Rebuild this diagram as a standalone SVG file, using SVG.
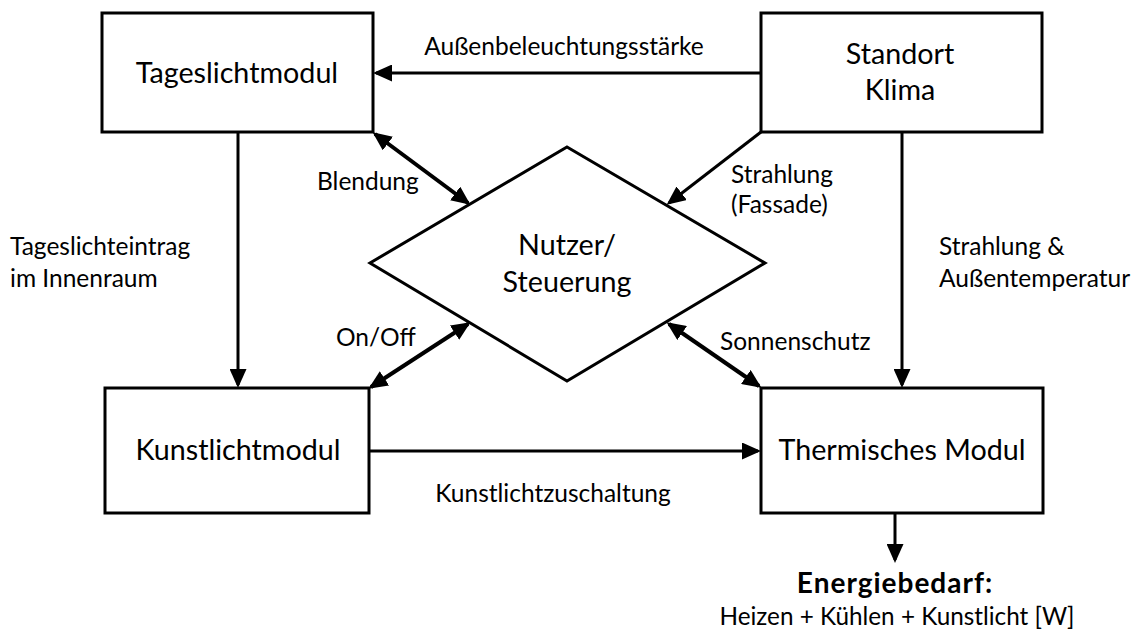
<svg xmlns="http://www.w3.org/2000/svg" width="1136" height="636" viewBox="0 0 1136 636">
<defs>
<style>
.box{fill:#fff;stroke:#000;stroke-width:3}
.lbl{font-family:Lato,"Liberation Sans",sans-serif;font-size:28.7px;fill:#000}
.sm{font-family:Lato,"Liberation Sans",sans-serif;font-size:24.5px;fill:#000}
.c{stroke:#000;stroke-width:3;fill:none}
.d{stroke:#000;stroke-width:4;fill:none}
</style>
<marker id="ah" markerUnits="userSpaceOnUse" markerWidth="19" markerHeight="17" viewBox="0 0 19 17" refX="16" refY="8.5" orient="auto-start-reverse">
<path d="M0,0 L19,8.5 L0,17 z" fill="#000"/>
</marker>
</defs>
<rect width="1136" height="636" fill="#fff"/>
<g id="connectors">
<line class="c" x1="761" y1="73" x2="376" y2="73" marker-end="url(#ah)"/>
<line class="c" x1="238" y1="132" x2="238" y2="385" marker-end="url(#ah)"/>
<line class="c" x1="902" y1="132" x2="902" y2="385" marker-end="url(#ah)"/>
<line class="c" x1="369" y1="451" x2="758" y2="451" marker-end="url(#ah)"/>
<line class="c" x1="895" y1="513" x2="895" y2="560" marker-end="url(#ah)"/>
<line class="c" x1="761" y1="132" x2="669" y2="203" marker-end="url(#ah)"/>
<line class="d" x1="375" y1="134" x2="468" y2="203" marker-start="url(#ah)" marker-end="url(#ah)"/>
<line class="d" x1="371" y1="387" x2="468" y2="324" marker-start="url(#ah)" marker-end="url(#ah)"/>
<line class="d" x1="669" y1="324" x2="759" y2="386" marker-start="url(#ah)" marker-end="url(#ah)"/>
<text class="sm" x="564" y="55" text-anchor="middle">Außenbeleuchtungsstärke</text>
<text class="sm" x="317" y="190">Blendung</text>
<text class="sm" x="731" y="183">Strahlung</text>
<text class="sm" x="731" y="213">(Fassade)</text>
<text class="sm" x="10" y="255">Tageslichteintrag</text>
<text class="sm" x="10" y="287">im Innenraum</text>
<text class="sm" x="939" y="255">Strahlung &amp;</text>
<text class="sm" x="939" y="287">Außentemperatur</text>
<text class="sm" x="336" y="346">On/Off</text>
<text class="sm" x="720" y="350">Sonnenschutz</text>
<text class="sm" x="553" y="502" text-anchor="middle">Kunstlichtzuschaltung</text>
</g>
<g id="tageslicht">
<rect class="box" x="102" y="13" width="271" height="119"/>
<text class="lbl" x="237" y="83" text-anchor="middle">Tageslichtmodul</text>
</g>
<g id="standort">
<rect class="box" x="761" y="13" width="281" height="119"/>
<text class="lbl" x="900" y="64" text-anchor="middle">Standort</text>
<text class="lbl" x="900" y="100" text-anchor="middle">Klima</text>
</g>
<g id="nutzer">
<polygon class="box" points="567,147 765,263 567,381 370,263"/>
<text class="lbl" x="567" y="255" text-anchor="middle">Nutzer/</text>
<text class="lbl" x="567" y="292" text-anchor="middle">Steuerung</text>
</g>
<g id="kunstlicht">
<rect class="box" x="105" y="388" width="264" height="125"/>
<text class="lbl" x="238" y="460" text-anchor="middle">Kunstlichtmodul</text>
</g>
<g id="thermisch">
<rect class="box" x="761" y="388" width="282" height="125"/>
<text class="lbl" x="902" y="460" text-anchor="middle">Thermisches Modul</text>
</g>
<g id="energie">
<text class="sm" x="895" y="593" text-anchor="middle" font-weight="bold" letter-spacing="1" style="font-size:28px">Energiebedarf:</text>
<text class="sm" x="897" y="625" text-anchor="middle" style="font-size:24.3px">Heizen + Kühlen + Kunstlicht [W]</text>
</g>
</svg>
